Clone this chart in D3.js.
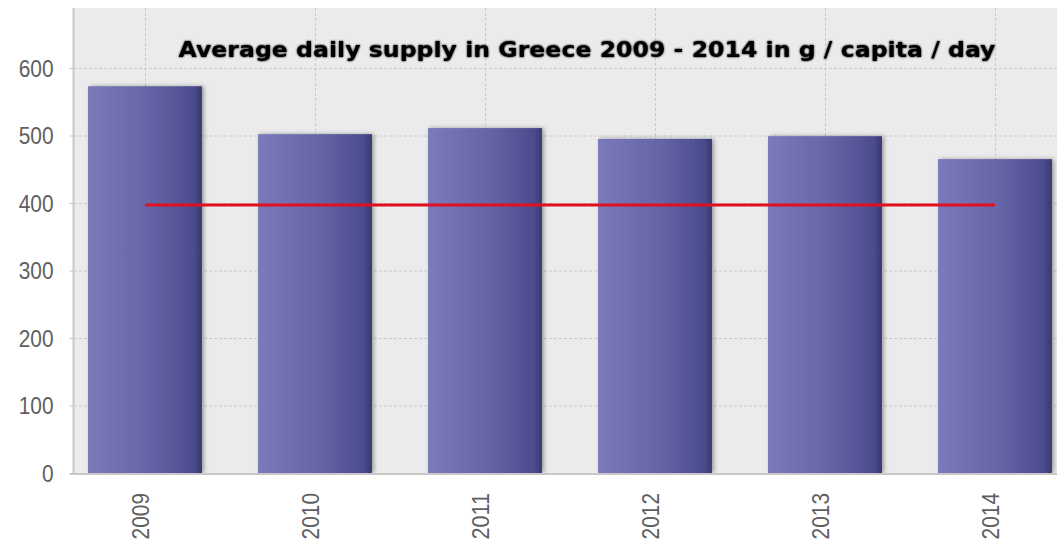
<!DOCTYPE html>
<html>
<head>
<meta charset="utf-8">
<script src="https://cdn.jsdelivr.net/npm/d3@7"></script>
<style>
  body { margin: 0; background: #fff; }
  svg { display: block; }
</style>
</head>
<body>
<svg id="chart" width="1057" height="543"></svg>
<script>
// data
const years = ['2009', '2010', '2011', '2012', '2013', '2014']
const supply = [573, 502, 511, 495, 499, 465]
const reference = [397, 397, 397, 397, 397, 397]
const yTicks = [0, 100, 200, 300, 400, 500, 600]
const title = 'Average daily supply in Greece 2009 - 2014 in g / capita / day'

const svg = d3.select('#chart')

const plot = { left: 74, top: 8, right: 1057, bottom: 473 }

const x = d3.scaleBand().domain(years).range([60, 1080]).paddingInner(0.33).paddingOuter(0.165)
const y = d3.scaleLinear().domain([0, 600]).range([plot.bottom, 68])

const labelFont = '"Liberation Sans", Arial, sans-serif'
const digitWidth = 11.6

const defs = svg.append('defs')
const grad = defs.append('linearGradient').attr('id', 'barGrad')
grad.append('stop').attr('offset', '0%').attr('stop-color', '#7b7abb')
grad.append('stop').attr('offset', '55%').attr('stop-color', '#6464a6')
grad.append('stop').attr('offset', '93%').attr('stop-color', '#4b4b8e')
grad.append('stop').attr('offset', '100%').attr('stop-color', '#393970')

const shadow = defs.append('filter').attr('id', 'shadow').attr('x', '-10%').attr('width', '125%')
shadow.append('feDropShadow').attr('dx', 2).attr('dy', 0).attr('stdDeviation', 2)
  .attr('flood-color', '#000').attr('flood-opacity', 0.35)

const glow = defs.append('filter').attr('id', 'glow').attr('x', '-5%').attr('y', '-30%')
  .attr('width', '110%').attr('height', '160%')
glow.append('feGaussianBlur').attr('in', 'SourceAlpha').attr('stdDeviation', 0.9).attr('result', 'b')
const gm = glow.append('feMerge')
gm.append('feMergeNode').attr('in', 'b')
gm.append('feMergeNode').attr('in', 'SourceGraphic')

const clip = defs.append('clipPath').attr('id', 'plotClip')
clip.append('rect').attr('x', plot.left).attr('y', plot.top)
  .attr('width', plot.right - plot.left).attr('height', plot.bottom - plot.top)

// background
svg.append('rect')
  .attr('x', plot.left).attr('y', plot.top)
  .attr('width', plot.right - plot.left).attr('height', plot.bottom - plot.top)
  .attr('fill', '#ebebeb')

const g = svg.append('g').attr('clip-path', 'url(#plotClip)')

// grid
g.append('g').selectAll('line').data(yTicks.filter(d => d > 0)).enter().append('line')
  .attr('x1', plot.left).attr('x2', plot.right)
  .attr('y1', d => y(d) + 0.5).attr('y2', d => y(d) + 0.5)
  .attr('stroke', '#c9c9c9').attr('stroke-dasharray', '3,2')

g.append('g').selectAll('line').data(years).enter().append('line')
  .attr('x1', d => Math.round(x(d) + x.bandwidth() / 2) + 0.5)
  .attr('x2', d => Math.round(x(d) + x.bandwidth() / 2) + 0.5)
  .attr('y1', plot.top).attr('y2', plot.bottom)
  .attr('stroke', '#c9c9c9').attr('stroke-dasharray', '3,2')

// bars
g.append('g').selectAll('rect').data(supply).enter().append('rect')
  .attr('x', (d, i) => x(years[i]))
  .attr('y', d => y(d))
  .attr('width', x.bandwidth())
  .attr('height', d => plot.bottom - y(d))
  .attr('fill', 'url(#barGrad)')
  .attr('filter', 'url(#shadow)')

// reference line
const line = d3.line()
  .x((d, i) => x(years[i]) + x.bandwidth() / 2)
  .y(d => y(d))
g.append('path').datum(reference)
  .attr('d', line)
  .attr('fill', 'none')
  .attr('stroke', '#e01020')
  .attr('stroke-width', 3)

// axes
const yAxis = d3.axisLeft(y).tickValues(yTicks).tickSize(4).tickPadding(16)
const ya = svg.append('g').attr('transform', `translate(${plot.left - 0.5},0)`).call(yAxis)
ya.select('.domain').attr('stroke', '#c8c8c8').attr('stroke-width', 2)
  .attr('d', `M0,${plot.top}V${plot.bottom}`)
ya.selectAll('.tick line').attr('stroke', '#c8c8c8')
ya.selectAll('.tick text')
  .attr('fill', '#606060').attr('font-family', labelFont)
  .attr('font-size', 23).attr('dy', '0.36em')
  .attr('textLength', d => String(d).length * digitWidth)
  .attr('lengthAdjust', 'spacingAndGlyphs')

svg.append('line')
  .attr('x1', plot.left - 4).attr('x2', plot.right)
  .attr('y1', plot.bottom + 1).attr('y2', plot.bottom + 1)
  .attr('stroke', '#c8c8c8').attr('stroke-width', 2)

const xAxis = d3.axisBottom(x).tickSize(0).tickPadding(0)
const xa = svg.append('g').attr('transform', `translate(0,${plot.bottom})`).call(xAxis)
xa.select('.domain').remove()
xa.selectAll('.tick text')
  .attr('fill', '#606060').attr('font-family', labelFont)
  .attr('font-size', 23)
  .attr('transform', 'rotate(-90)')
  .attr('text-anchor', 'end')
  .attr('x', -20).attr('y', 0).attr('dy', '0.16em')
  .attr('textLength', d => d.length * digitWidth)
  .attr('lengthAdjust', 'spacingAndGlyphs')

// title
svg.append('text')
  .attr('x', 587).attr('y', 57)
  .attr('text-anchor', 'middle')
  .attr('font-family', '"DejaVu Sans", Verdana, sans-serif')
  .attr('font-weight', 'bold')
  .attr('font-size', 21)
  .attr('fill', '#000')
  .attr('textLength', 817)
  .attr('lengthAdjust', 'spacingAndGlyphs')
  .attr('filter', 'url(#glow)')
  .text(title)
</script>
</body>
</html>
